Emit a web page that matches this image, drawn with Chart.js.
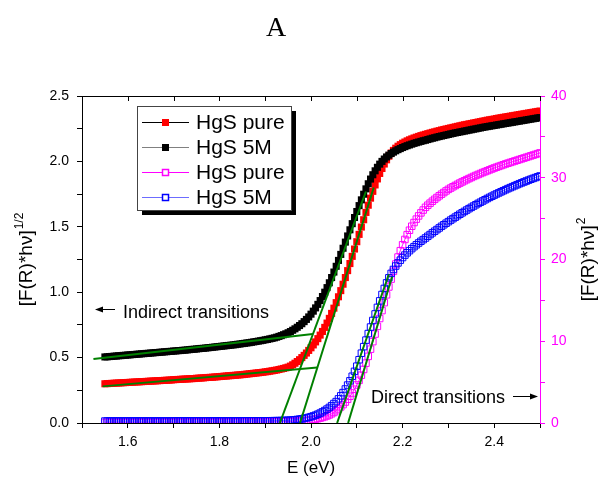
<!DOCTYPE html>
<html>
<head>
<meta charset="utf-8">
<script src="https://cdn.jsdelivr.net/npm/chart.js@4.4.1/dist/chart.umd.min.js"></script>
<style>
  html, body { margin: 0; padding: 0; background: #fff; }
  #chart { display: block; }
</style>
</head>
<body>
<canvas id="chart" width="599" height="480"></canvas>
<script>
// photon energy (eV), 5 meV steps
const energy = [
  1.550, 1.555, 1.560, 1.565, 1.570, 1.575, 1.580, 1.585, 1.590, 1.595,
  1.600, 1.605, 1.610, 1.615, 1.620, 1.625, 1.630, 1.635, 1.640, 1.645,
  1.650, 1.655, 1.660, 1.665, 1.670, 1.675, 1.680, 1.685, 1.690, 1.695,
  1.700, 1.705, 1.710, 1.715, 1.720, 1.725, 1.730, 1.735, 1.740, 1.745,
  1.750, 1.755, 1.760, 1.765, 1.770, 1.775, 1.780, 1.785, 1.790, 1.795,
  1.800, 1.805, 1.810, 1.815, 1.820, 1.825, 1.830, 1.835, 1.840, 1.845,
  1.850, 1.855, 1.860, 1.865, 1.870, 1.875, 1.880, 1.885, 1.890, 1.895,
  1.900, 1.905, 1.910, 1.915, 1.920, 1.925, 1.930, 1.935, 1.940, 1.945,
  1.950,
  1.955, 1.960, 1.965, 1.970, 1.975, 1.980, 1.985, 1.990, 1.995, 2.000,
  2.005, 2.010, 2.015, 2.020, 2.025, 2.030, 2.035, 2.040, 2.045, 2.050,
  2.055, 2.060, 2.065, 2.070, 2.075, 2.080, 2.085, 2.090, 2.095, 2.100,
  2.105, 2.110, 2.115, 2.120, 2.125, 2.130, 2.135, 2.140, 2.145, 2.150,
  2.155, 2.160, 2.165, 2.170, 2.175, 2.180, 2.185, 2.190, 2.195, 2.200,
  2.205, 2.210, 2.215, 2.220, 2.225, 2.230, 2.235, 2.240, 2.245, 2.250,
  2.255, 2.260, 2.265, 2.270, 2.275, 2.280, 2.285, 2.290, 2.295, 2.300,
  2.305, 2.310, 2.315, 2.320, 2.325, 2.330, 2.335, 2.340, 2.345, 2.350,
  2.355, 2.360, 2.365, 2.370, 2.375, 2.380, 2.385, 2.390, 2.395, 2.400,
  2.405, 2.410, 2.415, 2.420, 2.425, 2.430, 2.435, 2.440, 2.445, 2.450,
  2.455, 2.460, 2.465, 2.470, 2.475, 2.480, 2.485, 2.490, 2.495, 2.500
];

// [F(R)*hv]^1/2, left axis
const pureSqrt = [
  .300, .301, .302, .303, .304, .305, .306, .307, .308, .309,
  .310, .311, .312, .313, .314, .315, .316, .317, .318, .319,
  .320, .321, .322, .323, .324, .325, .326, .327, .328, .329,
  .331, .332, .333, .334, .335, .336, .337, .338, .339, .340,
  .342, .343, .344, .345, .347, .348, .349, .350, .352, .353,
  .355, .356, .358, .359, .361, .362, .364, .365, .367, .368,
  .370, .372, .374, .376, .378, .380, .382, .384, .386, .388,
  .391, .393, .396, .399, .402, .405, .409, .413, .417, .422,
  .427,
  .435, .445, .457, .470, .484, .500, .517, .535, .555, .575,
  .597, .620, .645, .672, .700, .731, .764, .800, .838, .878,
  .920, .965, 1.012, 1.061, 1.112, 1.165, 1.219, 1.274, 1.330, 1.386,
  1.442, 1.498, 1.554, 1.610, 1.665, 1.719, 1.771, 1.820, 1.866, 1.908,
  1.946, 1.980, 2.012, 2.040, 2.064, 2.084, 2.101, 2.116, 2.128, 2.139,
  2.148, 2.157, 2.165, 2.172, 2.179, 2.185, 2.191, 2.197, 2.202, 2.207,
  2.212, 2.217, 2.222, 2.226, 2.231, 2.235, 2.240, 2.244, 2.248, 2.252,
  2.256, 2.260, 2.264, 2.268, 2.272, 2.276, 2.280, 2.283, 2.287, 2.290,
  2.294, 2.297, 2.301, 2.304, 2.308, 2.311, 2.315, 2.318, 2.321, 2.324,
  2.328, 2.331, 2.334, 2.337, 2.340, 2.343, 2.346, 2.349, 2.352, 2.355,
  2.358, 2.361, 2.364, 2.367, 2.370, 2.373, 2.376, 2.379, 2.382, 2.385
];
const doped5MSqrt = [
  .505, .506, .508, .509, .511, .512, .514, .515, .517, .518,
  .520, .521, .523, .524, .526, .527, .529, .530, .532, .533,
  .535, .536, .538, .539, .541, .542, .544, .545, .547, .548,
  .550, .551, .553, .554, .556, .557, .559, .561, .563, .564,
  .566, .568, .570, .571, .573, .575, .577, .579, .581, .583,
  .585, .587, .589, .591, .593, .595, .597, .599, .602, .604,
  .607, .609, .612, .614, .617, .620, .623, .626, .629, .632,
  .636, .639, .643, .647, .651, .656, .662, .668, .675, .682,
  .690,
  .699, .709, .720, .732, .745, .759, .775, .792, .811, .832,
  .855, .880, .907, .936, .967, 1.000, 1.035, 1.072, 1.112, 1.154,
  1.198, 1.243, 1.289, 1.336, 1.383, 1.430, 1.477, 1.524, 1.571, 1.617,
  1.662, 1.706, 1.749, 1.790, 1.829, 1.865, 1.898, 1.928, 1.955, 1.979,
  2.000, 2.018, 2.034, 2.048, 2.060, 2.071, 2.081, 2.090, 2.098, 2.106,
  2.113, 2.120, 2.126, 2.132, 2.138, 2.143, 2.148, 2.153, 2.158, 2.162,
  2.167, 2.172, 2.177, 2.181, 2.186, 2.190, 2.194, 2.198, 2.202, 2.206,
  2.210, 2.214, 2.218, 2.221, 2.225, 2.228, 2.232, 2.235, 2.239, 2.242,
  2.246, 2.249, 2.253, 2.256, 2.260, 2.263, 2.266, 2.269, 2.272, 2.275,
  2.278, 2.281, 2.284, 2.287, 2.290, 2.293, 2.296, 2.299, 2.302, 2.305,
  2.308, 2.311, 2.314, 2.317, 2.320, 2.323, 2.326, 2.329, 2.332, 2.335
];

// [F(R)*hv]^2, right axis
const pureSquare = [
  0.08, 0.08, 0.08, 0.08, 0.08, 0.08, 0.08, 0.08, 0.08, 0.08,
  0.08, 0.08, 0.08, 0.08, 0.08, 0.08, 0.08, 0.08, 0.08, 0.08,
  0.09, 0.09, 0.09, 0.09, 0.09, 0.09, 0.09, 0.09, 0.09, 0.09,
  0.09, 0.09, 0.09, 0.09, 0.09, 0.09, 0.09, 0.09, 0.09, 0.09,
  0.10, 0.10, 0.10, 0.10, 0.10, 0.10, 0.10, 0.10, 0.10, 0.10,
  0.10, 0.10, 0.10, 0.10, 0.10, 0.10, 0.10, 0.10, 0.10, 0.10,
  0.11, 0.11, 0.11, 0.11, 0.11, 0.11, 0.11, 0.11, 0.11, 0.11,
  0.12, 0.12, 0.13, 0.13, 0.14, 0.14, 0.15, 0.15, 0.16, 0.17,
  0.18,
  0.19, 0.20, 0.21, 0.22, 0.24, 0.26, 0.28, 0.31, 0.34, 0.38,
  0.42, 0.47, 0.53, 0.60, 0.68, 0.77, 0.87, 0.99, 1.13, 1.29,
  1.50, 1.72, 1.97, 2.25, 2.56, 2.90, 3.27, 3.67, 4.13, 4.65,
  5.22, 5.85, 6.55, 7.32, 8.15, 9.03, 9.95, 10.88, 11.82, 12.78,
  13.75, 14.72, 15.68, 16.64, 17.60, 18.55, 19.45, 20.30, 21.08, 21.80,
  22.45, 23.04, 23.58, 24.07, 24.52, 24.94, 25.33, 25.70, 26.05, 26.38,
  26.64, 26.89, 27.13, 27.36, 27.58, 27.79, 27.99, 28.19, 28.39, 28.58,
  28.74, 28.90, 29.05, 29.20, 29.35, 29.49, 29.63, 29.77, 29.90, 30.03,
  30.16, 30.28, 30.40, 30.52, 30.64, 30.75, 30.86, 30.97, 31.08, 31.19,
  31.29, 31.39, 31.49, 31.59, 31.69, 31.78, 31.87, 31.96, 32.05, 32.14,
  32.23, 32.32, 32.41, 32.50, 32.59, 32.68, 32.77, 32.86, 32.95, 33.04
];
const doped5MSquare = [
  0.24, 0.24, 0.24, 0.24, 0.24, 0.24, 0.24, 0.24, 0.24, 0.24,
  0.24, 0.24, 0.24, 0.24, 0.24, 0.24, 0.24, 0.24, 0.24, 0.24,
  0.24, 0.24, 0.24, 0.24, 0.24, 0.24, 0.24, 0.24, 0.24, 0.24,
  0.25, 0.25, 0.25, 0.25, 0.25, 0.25, 0.25, 0.25, 0.25, 0.25,
  0.25, 0.25, 0.25, 0.25, 0.25, 0.25, 0.25, 0.25, 0.25, 0.25,
  0.25, 0.25, 0.25, 0.25, 0.25, 0.25, 0.25, 0.25, 0.25, 0.25,
  0.26, 0.26, 0.26, 0.26, 0.26, 0.26, 0.26, 0.26, 0.26, 0.26,
  0.265, 0.27, 0.275, 0.28, 0.285, 0.29, 0.295, 0.30, 0.31, 0.32,
  0.33,
  0.35, 0.37, 0.40, 0.43, 0.47, 0.51, 0.56, 0.62, 0.69, 0.77,
  0.86, 0.96, 1.08, 1.21, 1.36, 1.52, 1.70, 1.90, 2.12, 2.38,
  2.62, 2.95, 3.32, 3.72, 4.16, 4.64, 5.16, 5.72, 6.32, 6.95,
  7.74, 8.54, 9.34, 10.14, 10.94, 11.74, 12.54, 13.34, 14.14, 14.94,
  15.72, 16.46, 17.14, 17.76, 18.30, 18.78, 19.20, 19.58, 19.92, 20.24,
  20.54, 20.82, 21.08, 21.33, 21.57, 21.80, 22.02, 22.23, 22.43, 22.63,
  22.84, 23.05, 23.26, 23.46, 23.66, 23.86, 24.06, 24.25, 24.44, 24.63,
  24.82, 25.00, 25.18, 25.36, 25.54, 25.71, 25.88, 26.05, 26.22, 26.38,
  26.54, 26.70, 26.86, 27.01, 27.16, 27.31, 27.46, 27.60, 27.74, 27.88,
  28.02, 28.15, 28.28, 28.41, 28.54, 28.67, 28.79, 28.91, 29.03, 29.15,
  29.27, 29.38, 29.49, 29.60, 29.71, 29.82, 29.92, 30.02, 30.12, 30.22
];

// tangent lines [E, value] used to read the band gaps
const base5M = [[1.525, 0.49], [2.004, 0.68]];
const basePure = [[1.545, 0.28], [2.014, 0.425]];
const edge5M = [[1.932, 0], [2.120, 1.77]];
const edgePure = [[1.976, 0], [2.137, 1.80]];
const direct5M = [[2.057, 0], [2.170, 18.2]];
const directPure = [[2.081, 0], [2.177, 17.9]];

const seriesLabels = ['HgS pure', 'HgS 5M', 'HgS pure', 'HgS 5M'];

const MAGENTA = '#ff00ff';
const GREEN = '#008000';
const FONT = '"Liberation Sans", Arial, sans-serif';

const toPoints = (values) => energy.map((e, i) => ({ x: e, y: values[i] }));
const toSegment = (pairs) => pairs.map(p => ({ x: p[0], y: p[1] }));

function tangent(pairs, axis) {
  return {
    data: toSegment(pairs),
    yAxisID: axis,
    borderColor: GREEN,
    borderWidth: 2,
    pointRadius: 0,
    order: 0
  };
}

const datasets = [
  tangent(base5M, 'y'), tangent(basePure, 'y'),
  tangent(edge5M, 'y'), tangent(edgePure, 'y'),
  tangent(direct5M, 'y1'), tangent(directPure, 'y1'),
  {
    label: seriesLabels[1], data: toPoints(doped5MSqrt), yAxisID: 'y', order: 1,
    borderColor: '#808080', borderWidth: 1,
    pointStyle: 'rect', pointRadius: 5, pointBorderWidth: 0,
    pointBackgroundColor: '#000', pointBorderColor: '#000'
  },
  {
    label: seriesLabels[0], data: toPoints(pureSqrt), yAxisID: 'y', order: 2,
    borderColor: '#000', borderWidth: 1,
    pointStyle: 'rect', pointRadius: 5, pointBorderWidth: 0,
    pointBackgroundColor: '#ff0000', pointBorderColor: '#ff0000'
  },
  {
    label: seriesLabels[3], data: toPoints(doped5MSquare), yAxisID: 'y1', order: 3,
    borderColor: '#6c6cff', borderWidth: 1,
    pointStyle: 'rect', pointRadius: 4.6, pointBorderWidth: 1,
    pointBackgroundColor: 'rgba(0,0,0,0)', pointBorderColor: '#0000ff'
  },
  {
    label: seriesLabels[2], data: toPoints(pureSquare), yAxisID: 'y1', order: 4,
    borderColor: MAGENTA, borderWidth: 1,
    pointStyle: 'rect', pointRadius: 4.6, pointBorderWidth: 1,
    pointBackgroundColor: 'rgba(0,0,0,0)', pointBorderColor: MAGENTA
  }
];

// rotated axis title with a superscript
function drawRotatedTitle(ctx, cx, cy, main, sup, size) {
  ctx.save();
  ctx.translate(cx, cy);
  ctx.rotate(-Math.PI / 2);
  const supSize = Math.round(size * 0.65);
  ctx.font = size + 'px ' + FONT;
  const w1 = ctx.measureText(main).width;
  ctx.font = supSize + 'px ' + FONT;
  const w2 = ctx.measureText(sup).width;
  const x0 = -(w1 + w2) / 2;
  ctx.fillStyle = '#000';
  ctx.textBaseline = 'alphabetic';
  ctx.textAlign = 'left';
  ctx.font = size + 'px ' + FONT;
  ctx.fillText(main, x0, size * 0.35);
  ctx.font = supSize + 'px ' + FONT;
  ctx.fillText(sup, x0 + w1 + 1, size * 0.35 - size * 0.45);
  ctx.restore();
}

function drawArrow(ctx, x1, x2, y) {
  const dir = Math.sign(x2 - x1);
  ctx.beginPath();
  ctx.moveTo(x1, y);
  ctx.lineTo(x2 - dir * 5, y);
  ctx.stroke();
  ctx.beginPath();
  ctx.moveTo(x2, y);
  ctx.lineTo(x2 - dir * 8, y - 3);
  ctx.lineTo(x2 - dir * 8, y + 3);
  ctx.closePath();
  ctx.fill();
}

const decorations = {
  id: 'decorations',
  afterDraw(chart) {
    const { ctx, chartArea: a, scales } = chart;
    ctx.save();

    // top frame with inward ticks
    ctx.strokeStyle = '#000';
    ctx.lineWidth = 1;
    ctx.beginPath();
    ctx.moveTo(a.left, a.top + 0.5);
    ctx.lineTo(a.right, a.top + 0.5);
    scales.x.ticks.forEach(t => {
      const px = Math.round(scales.x.getPixelForValue(t.value)) + 0.5;
      ctx.moveTo(px, a.top);
      ctx.lineTo(px, a.top + 5);
    });
    ctx.stroke();

    // panel letter
    ctx.fillStyle = '#000';
    ctx.font = '28px "Liberation Serif", "Times New Roman", serif';
    ctx.textAlign = 'center';
    ctx.textBaseline = 'alphabetic';
    ctx.fillText('A', 276, 36);

    // axis titles
    ctx.font = '17px ' + FONT;
    ctx.fillText('E (eV)', 311, 473);
    drawRotatedTitle(ctx, 25, 260, '[F(R)*h\u03BD]', '1/2', 19);
    drawRotatedTitle(ctx, 587, 260, '[F(R)*h\u03BD]', '2', 19);

    // annotations
    ctx.font = '18px ' + FONT;
    ctx.textAlign = 'left';
    ctx.fillText('Indirect transitions', 123, 318);
    ctx.fillText('Direct transitions', 371, 403);
    ctx.strokeStyle = '#000';
    ctx.lineWidth = 1;
    drawArrow(ctx, 115, 95, 309.5);
    drawArrow(ctx, 513, 538, 396.5);

    // legend with drop shadow
    const lx = 137, ly = 106, lw = 154, lh = 104;
    ctx.fillStyle = '#000';
    ctx.fillRect(lx + 5, ly + 5, lw, lh);
    ctx.fillStyle = '#fff';
    ctx.fillRect(lx, ly, lw, lh);
    ctx.strokeStyle = '#444';
    ctx.strokeRect(lx + 0.5, ly + 0.5, lw, lh);

    const rows = [
      { label: seriesLabels[0], line: '#000', mark: '#ff0000', filled: true },
      { label: seriesLabels[1], line: '#808080', mark: '#000', filled: true },
      { label: seriesLabels[2], line: MAGENTA, mark: MAGENTA, filled: false },
      { label: seriesLabels[3], line: '#6c6cff', mark: '#0000ff', filled: false }
    ];
    ctx.font = '21px ' + FONT;
    ctx.textBaseline = 'middle';
    rows.forEach((r, i) => {
      const y = ly + 16.5 + i * 25;
      ctx.strokeStyle = r.line;
      ctx.lineWidth = 1;
      ctx.beginPath();
      ctx.moveTo(lx + 5, y);
      ctx.lineTo(lx + 52, y);
      ctx.stroke();
      if (r.filled) {
        ctx.fillStyle = r.mark;
        ctx.fillRect(lx + 25, y - 3.5, 7, 7);
      } else {
        ctx.fillStyle = '#fff';
        ctx.fillRect(lx + 25, y - 3.5, 7, 7);
        ctx.strokeStyle = r.mark;
        ctx.lineWidth = 1.5;
        ctx.strokeRect(lx + 25.5, y - 3, 6, 6);
      }
      ctx.fillStyle = '#000';
      ctx.fillText(r.label, lx + 59, y + 1);
    });

    ctx.restore();
  }
};

Chart.defaults.font.family = FONT;
Chart.defaults.font.size = 14;
Chart.defaults.color = '#000';

new Chart(document.getElementById('chart'), {
  type: 'line',
  data: { datasets },
  options: {
    responsive: false,
    animation: false,
    layout: { padding: { top: 96, left: 0, right: 0, bottom: 0 } },
    plugins: { legend: { display: false }, tooltip: { enabled: false } },
    elements: { line: { tension: 0 } },
    scales: {
      x: {
        type: 'linear',
        min: 1.5,
        max: 2.5,
        afterFit: s => { s.height = 57; },
        grid: { drawOnChartArea: false, drawTicks: true, tickLength: 5, color: '#000' },
        border: { display: true, color: '#000', width: 1 },
        ticks: {
          stepSize: 0.1,
          autoSkip: false,
          maxRotation: 0,
          padding: 6,
          font: { size: 14 },
          callback: v => (Math.round(v * 10) % 2 === 0 ? v.toFixed(1) : '')
        }
      },
      y: {
        type: 'linear',
        position: 'left',
        min: 0,
        max: 2.5,
        afterFit: s => { s.width = 82; },
        grid: { drawOnChartArea: false, drawTicks: true, tickLength: 5, color: '#000' },
        border: { display: true, color: '#000', width: 1 },
        ticks: {
          stepSize: 0.25,
          autoSkip: false,
          padding: 8,
          font: { size: 14 },
          callback: v => (Math.round(v * 4) % 2 === 0 ? v.toFixed(1) : '')
        }
      },
      y1: {
        type: 'linear',
        position: 'right',
        min: 0,
        max: 40,
        afterFit: s => { s.width = 59; },
        grid: { drawOnChartArea: false, drawTicks: true, tickLength: 5, color: MAGENTA },
        border: { display: true, color: MAGENTA, width: 1 },
        ticks: {
          stepSize: 5,
          autoSkip: false,
          padding: 6,
          color: MAGENTA,
          font: { size: 14 },
          callback: v => (v % 10 === 0 ? String(v) : '')
        }
      }
    }
  },
  plugins: [decorations]
});
</script>
</body>
</html>
